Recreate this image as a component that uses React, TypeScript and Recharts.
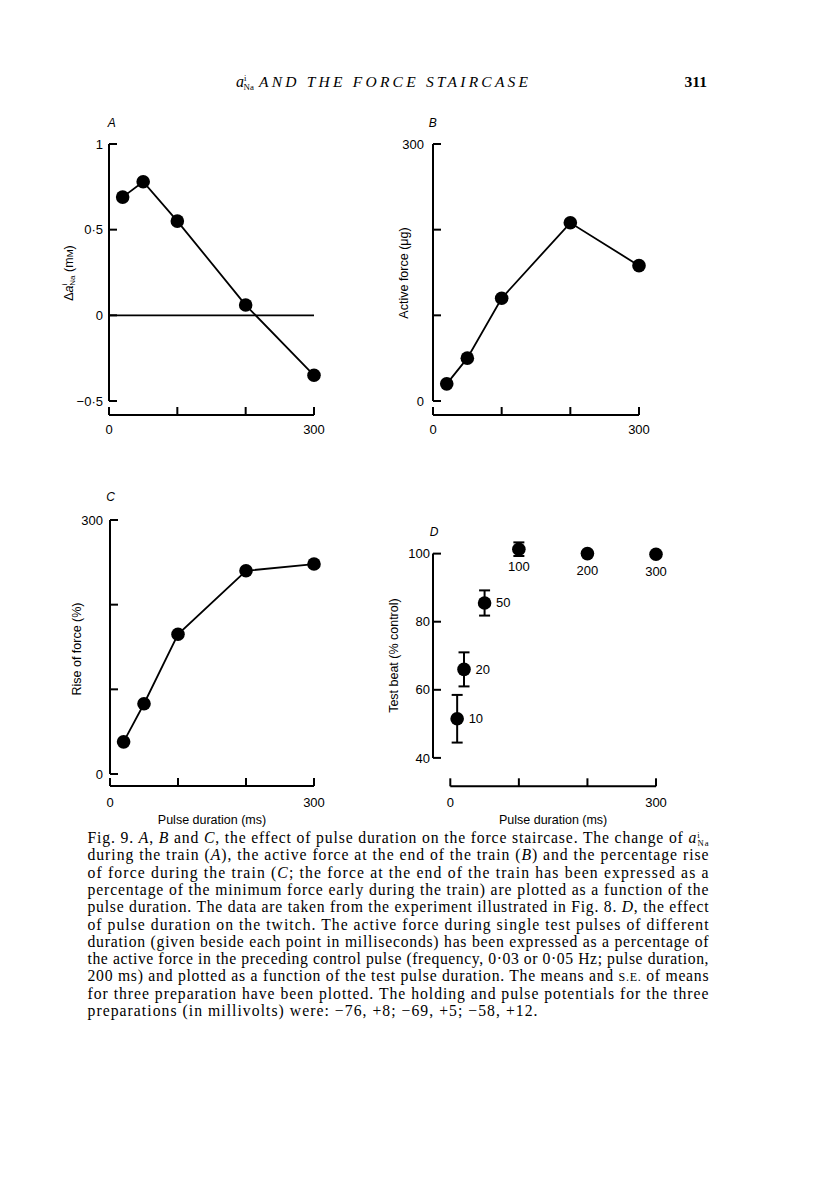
import React from 'react';
import {
  LineChart,
  Line,
  ScatterChart,
  Scatter,
  ErrorBar,
  LabelList,
  XAxis,
  YAxis,
  ReferenceLine
} from 'recharts';

// values
const durations = [20, 50, 100, 200, 300];
const deltaNa = [0.69, 0.78, 0.55, 0.06, -0.35];
const activeForce = [20, 50, 120, 208, 158];
const riseOfForce = [38, 83, 165, 240, 248];

const testDurations = [10, 20, 50, 100, 200, 300];
const testBeat = [51.5, 66, 85.5, 101.3, 100, 99.8];
const testBeatSE = [7, 5, 3.7, 2, 0, 0];

const xTicks = [0, 100, 200, 300];
const naTicks = [-0.5, 0, 0.5, 1];
const forceTicks = [0, 100, 200, 300];
const beatTicks = [40, 60, 80, 100];

const captionLines = [
  'Fig. 9. *A*, *B* and *C*, the effect of pulse duration on the force staircase. The change of {aNa}',
  'during the train (*A*), the active force at the end of the train (*B*) and the percentage rise',
  'of force during the train (*C*; the force at the end of the train has been expressed as a',
  'percentage of the minimum force early during the train) are plotted as a function of the',
  'pulse duration. The data are taken from the experiment illustrated in Fig. 8. *D*, the effect',
  'of pulse duration on the twitch. The active force during single test pulses of different',
  'duration (given beside each point in milliseconds) has been expressed as a percentage of',
  'the active force in the preceding control pulse (frequency, 0·03 or 0·05 Hz; pulse duration,',
  '200 ms) and plotted as a function of the test pulse duration. The means and {se} of means',
  'for three preparation have been plotted. The holding and pulse potentials for the three',
  'preparations (in millivolts) were: −76, +8; −69, +5; −58, +12.'
];

const SANS = '"Liberation Sans", Arial, Helvetica, sans-serif';
const SERIF = '"Liberation Serif", "Times New Roman", serif';

const tickStyle = { fill: '#000', fontSize: 13, fontFamily: SANS };
const tickLine = { stroke: '#000', strokeWidth: 2 };
const axisLine = (dash?: string) => ({ stroke: '#000', strokeWidth: 2, strokeDasharray: dash });

const endsOnly = (v: number) => (v === 0 || v === 300 ? String(v) : '');
const fmtNa = (v: number) => (v < 0 ? '−' : '') + String(Math.abs(v)).replace('.', '·');

const dotStyle = { r: 6.8, fill: '#000', stroke: '#000', strokeWidth: 0 };

function yTitle(x: number, y: number, content: React.ReactNode) {
  return () => (
    <text
      x={x}
      y={y}
      transform={`rotate(-90 ${x} ${y})`}
      textAnchor="middle"
      dominantBaseline="central"
      fontFamily={SANS}
      fontSize={12.5}
      fill="#000"
    >
      {content}
    </text>
  );
}

const xTitle = (dx: number, dy: number) => (props: any) => {
  const vb = props.viewBox || {};
  return (
    <text
      x={vb.x + vb.width / 2 + dx}
      y={vb.y + dy}
      textAnchor="middle"
      fontFamily={SANS}
      fontSize={12.5}
      fill="#000"
    >
      Pulse duration (ms)
    </text>
  );
};

function PanelA() {
  const data = durations.map((x, i) => ({ x, y: deltaNa[i] }));
  return (
    <div style={{ position: 'absolute', left: 40, top: 134 }}>
      <LineChart width={300} height={321} data={data} margin={{ top: 10, right: 26, bottom: 0, left: 0 }}>
        <XAxis type="number" dataKey="x" domain={[0, 300]} ticks={xTicks} interval={0}
          tickFormatter={endsOnly} tickSize={-8} tickMargin={18} height={40}
          axisLine={axisLine()} tickLine={tickLine} tick={tickStyle} />
        <YAxis type="number" domain={[-0.5, 1]} ticks={naTicks} interval={0}
          tickFormatter={fmtNa} tickSize={-8} tickMargin={14} width={69}
          padding={{ top: 0, bottom: 14 }}
          axisLine={axisLine('257 999')} tickLine={tickLine} tick={tickStyle}
          label={yTitle(29, 139, (
            <>
              Δ<tspan fontStyle="italic">a</tspan>
              <tspan fontSize={8} dy={-5}>i</tspan>
              <tspan fontSize={8} dx={-2} dy={8}>Na</tspan>
              <tspan dy={-3}> (m</tspan>
              <tspan fontSize={9.5}>M</tspan>
              <tspan>)</tspan>
            </>
          ))} />
        <ReferenceLine y={0} stroke="#000" strokeWidth={1.8} />
        <Line dataKey="y" stroke="#000" strokeWidth={1.8} dot={dotStyle} isAnimationActive={false} />
      </LineChart>
    </div>
  );
}

function PanelB() {
  const data = durations.map((x, i) => ({ x, y: activeForce[i] }));
  return (
    <div style={{ position: 'absolute', left: 363, top: 134 }}>
      <LineChart width={302} height={321} data={data} margin={{ top: 10, right: 26, bottom: 0, left: 0 }}>
        <XAxis type="number" dataKey="x" domain={[0, 300]} ticks={xTicks} interval={0}
          tickFormatter={endsOnly} tickSize={-8} tickMargin={18} height={40}
          axisLine={axisLine()} tickLine={tickLine} tick={tickStyle} />
        <YAxis type="number" domain={[0, 300]} ticks={forceTicks} interval={0}
          tickFormatter={endsOnly} tickSize={-8} tickMargin={17} width={70}
          padding={{ top: 0, bottom: 14 }}
          axisLine={axisLine('257 999')} tickLine={tickLine} tick={tickStyle}
          label={yTitle(41, 139, 'Active force (μg)')} />
        <Line dataKey="y" stroke="#000" strokeWidth={1.8} dot={dotStyle} isAnimationActive={false} />
      </LineChart>
    </div>
  );
}

function PanelC() {
  const data = durations.map((x, i) => ({ x, y: riseOfForce[i] }));
  return (
    <div style={{ position: 'absolute', left: 40, top: 510 }}>
      <LineChart width={300} height={326} data={data} margin={{ top: 10, right: 26, bottom: 0, left: 0 }}>
        <XAxis type="number" dataKey="x" domain={[0, 300]} ticks={xTicks} interval={0}
          tickFormatter={endsOnly} tickSize={-8} tickMargin={20} height={50}
          axisLine={axisLine()} tickLine={tickLine} tick={tickStyle}
          label={xTitle(0, 38)} />
        <YAxis type="number" domain={[0, 300]} ticks={forceTicks} interval={0}
          tickFormatter={endsOnly} tickSize={-8} tickMargin={15} width={70}
          padding={{ top: 0, bottom: 12 }}
          axisLine={axisLine('254 999')} tickLine={tickLine} tick={tickStyle}
          label={yTitle(37, 139, 'Rise of force (%)')} />
        <Line dataKey="y" stroke="#000" strokeWidth={1.8} dot={dotStyle} isAnimationActive={false} />
      </LineChart>
    </div>
  );
}

const beatLabel = (props: any) => {
  const vb = props.viewBox || props;
  const cx = vb.x + (vb.width || 0) / 2;
  const cy = vb.y + (vb.height || 0) / 2;
  const below = props.value >= 100;
  return (
    <text
      x={below ? cx : cx + 11.5}
      y={below ? cy + 17 : cy}
      textAnchor={below ? 'middle' : 'start'}
      dominantBaseline="central"
      fontFamily={SANS}
      fontSize={13}
      fill="#000"
    >
      {props.value}
    </text>
  );
};

function PanelD() {
  const data = testDurations.map((x, i) => ({ x, y: testBeat[i], se: testBeatSE[i] }));
  return (
    <div style={{ position: 'absolute', left: 362.7, top: 530.4 }}>
      <ScatterChart width={319} height={306.3} margin={{ top: 10, right: 26, bottom: 0, left: 0 }}>
        <XAxis type="number" dataKey="x" domain={[0, 300]} ticks={xTicks} interval={0}
          tickFormatter={endsOnly} tickSize={-8} tickMargin={19} height={50}
          padding={{ left: 17.3, right: 0 }}
          axisLine={axisLine('0 17.3 400')} tickLine={tickLine} tick={tickStyle}
          label={xTitle(8.65, 38)} />
        <YAxis type="number" dataKey="y" domain={[40, 104]} ticks={beatTicks} interval={0}
          tickSize={-8} tickMargin={11} width={70}
          padding={{ top: 0, bottom: 28.4 }}
          axisLine={axisLine('0 13.6 204.3 999')} tickLine={tickLine} tick={tickStyle}
          label={yTitle(31.3, 125.6, 'Test beat (% control)')} />
        <Scatter data={data} isAnimationActive={false}
          shape={(p: any) => <circle cx={p.cx} cy={p.cy} r={6.8} fill="#000" />}>
          <ErrorBar dataKey="se" direction="y" width={5.5} stroke="#000" strokeWidth={2} isAnimationActive={false} />
          <LabelList dataKey="x" content={beatLabel} />
        </Scatter>
      </ScatterChart>
    </div>
  );
}

function aNa(size: number) {
  return (
    <>
      <tspan fontStyle="italic">a</tspan>
      <tspan fontSize={size * 0.55} dy={-size * 0.35}>i</tspan>
      <tspan fontSize={size * 0.55} dx={-size * 0.18} dy={size * 0.52}>Na</tspan>
      <tspan dy={-size * 0.17}>{''}</tspan>
    </>
  );
}

function rich(line: string) {
  const parts = line.split(/(\*[^*]+\*|\{aNa\}|\{se\})/).filter((s) => s !== '');
  return parts.map((p, i) => {
    if (p === '{aNa}') return <React.Fragment key={i}>{aNa(15.7)}</React.Fragment>;
    if (p === '{se}') return <tspan key={i} fontSize={12}>S.E.</tspan>;
    if (p.startsWith('*')) return <tspan key={i} fontStyle="italic">{p.slice(1, -1)}</tspan>;
    return <tspan key={i}>{p}</tspan>;
  });
}

function PageText() {
  return (
    <svg width={816} height={1181} style={{ position: 'absolute', left: 0, top: 0 }}>
      <text x={236} y={87} fontFamily={SERIF} fontSize={16} fill="#000">{aNa(16)}</text>
      <text x={259} y={87} fontFamily={SERIF} fontSize={15.5} fontStyle="italic" fill="#000"
        textLength={269} lengthAdjust="spacing">AND THE FORCE STAIRCASE</text>
      <text x={707} y={87} textAnchor="end" fontFamily={SERIF} fontSize={15.5} fontWeight="bold" fill="#000">311</text>

      {[['A', 111.7, 123], ['B', 432.7, 123], ['C', 110.7, 497], ['D', 434, 531.7]].map(([t, x, y]) => (
        <text key={t as string} x={x as number} y={y as number} textAnchor="middle" dominantBaseline="central"
          fontFamily={SANS} fontSize={12} fontStyle="italic" fill="#000">{t}</text>
      ))}

      {captionLines.map((line, i) => (
        <text key={i} x={87.5} y={843 + i * 17.3} fontFamily={SERIF} fontSize={15.7} fill="#000"
          textLength={i < captionLines.length - 1 ? 621 : 450} lengthAdjust="spacing">
          {rich(line)}
        </text>
      ))}
    </svg>
  );
}

export default function App() {
  return (
    <div style={{ position: 'absolute', left: 0, top: 0, width: 816, height: 1181, background: '#fff' }}>
      <PageText />
      <PanelA />
      <PanelB />
      <PanelC />
      <PanelD />
    </div>
  );
}
